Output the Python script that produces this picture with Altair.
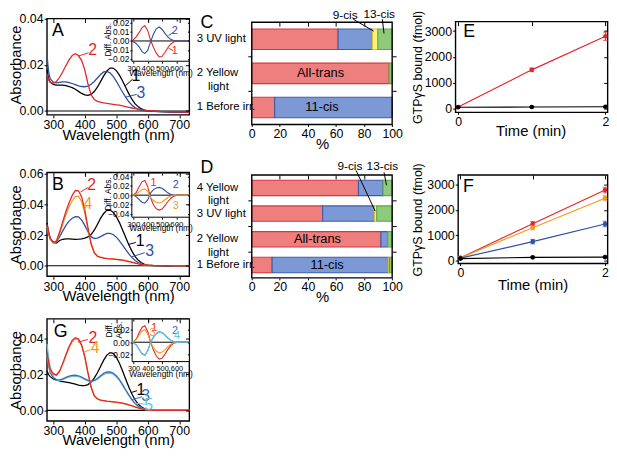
import altair as alt
import pandas as pd

# ---------------- data ----------------
WL = [280, 285, 290, 300, 310, 320, 330, 340, 350, 360, 370, 380, 390, 400, 410, 420, 430, 440, 450, 460,
      470, 480, 490, 500, 510, 520, 530, 540, 550, 560, 570, 580, 590, 600, 620, 640, 660, 680, 700, 720, 732]

A_SPEC_1 = [0.0180, 0.0140, 0.0125, 0.0115, 0.0112, 0.0112, 0.0112, 0.0110, 0.0106, 0.0101,
            0.0094, 0.0085, 0.0076, 0.0070, 0.0068, 0.0072, 0.0084, 0.0103, 0.0127, 0.0152,
            0.0173, 0.0186, 0.0186, 0.0175, 0.0155, 0.0130, 0.0102, 0.0074, 0.0050, 0.0031,
            0.0018, 0.0009, 0.0004, 0.0001, -0.0002, -0.0003, -0.0004, -0.0005, -0.0005, -0.0006, -0.0006]
A_SPEC_2 = [0.0160, 0.0135, 0.0125, 0.0120, 0.0128, 0.0146, 0.0170, 0.0196, 0.0221, 0.0240,
            0.0248, 0.0240, 0.0218, 0.0178, 0.0118, 0.0070, 0.0050, 0.0042, 0.0038, 0.0035,
            0.0033, 0.0031, 0.0029, 0.0027, 0.0025, 0.0022, 0.0019, 0.0016, 0.0013, 0.0010,
            0.0008, 0.0006, 0.0004, 0.0002, 0.0000, -0.0002, -0.0003, -0.0004, -0.0004, -0.0005, -0.0005]
A_SPEC_3 = [0.0240, 0.0170, 0.0140, 0.0125, 0.0122, 0.0124, 0.0126, 0.0126, 0.0123, 0.0119,
            0.0114, 0.0109, 0.0106, 0.0105, 0.0108, 0.0116, 0.0128, 0.0143, 0.0158, 0.0169,
            0.0171, 0.0165, 0.0150, 0.0129, 0.0105, 0.0081, 0.0059, 0.0040, 0.0025, 0.0014,
            0.0007, 0.0003, 0.0001, 0.0000, -0.0002, -0.0003, -0.0004, -0.0005, -0.0005, -0.0006, -0.0006]

B_SPEC_1 = [0.0280, 0.0220, 0.0180, 0.0152, 0.0148, 0.0165, 0.0173, 0.0176, 0.0175, 0.0174,
            0.0173, 0.0174, 0.0176, 0.0180, 0.0188, 0.0204, 0.0232, 0.0270, 0.0310, 0.0342,
            0.0362, 0.0364, 0.0350, 0.0322, 0.0282, 0.0234, 0.0184, 0.0136, 0.0094, 0.0060,
            0.0035, 0.0019, 0.0009, 0.0004, 0.0000, -0.0001, -0.0002, -0.0002, -0.0003, -0.0003, -0.0003]
B_SPEC_2 = [0.0270, 0.0220, 0.0180, 0.0152, 0.0162, 0.0220, 0.0288, 0.0355, 0.0412, 0.0460,
            0.0492, 0.0490, 0.0450, 0.0365, 0.0250, 0.0145, 0.0085, 0.0062, 0.0054, 0.0050,
            0.0047, 0.0045, 0.0043, 0.0041, 0.0039, 0.0036, 0.0032, 0.0027, 0.0022, 0.0017,
            0.0012, 0.0008, 0.0005, 0.0003, 0.0001, 0.0000, 0.0000, -0.0001, -0.0001, -0.0001, -0.0001]
B_SPEC_3 = [0.0260, 0.0210, 0.0175, 0.0150, 0.0155, 0.0190, 0.0228, 0.0264, 0.0292, 0.0311,
            0.0321, 0.0319, 0.0300, 0.0264, 0.0222, 0.0190, 0.0178, 0.0180, 0.0190, 0.0202,
            0.0211, 0.0212, 0.0204, 0.0187, 0.0163, 0.0135, 0.0105, 0.0077, 0.0053, 0.0034,
            0.0020, 0.0011, 0.0005, 0.0002, 0.0000, -0.0001, -0.0001, -0.0002, -0.0002, -0.0002, -0.0002]
B_SPEC_4 = [0.0260, 0.0210, 0.0175, 0.0150, 0.0158, 0.0210, 0.0272, 0.0334, 0.0385, 0.0425,
            0.0452, 0.0455, 0.0420, 0.0343, 0.0237, 0.0140, 0.0085, 0.0063, 0.0056, 0.0051,
            0.0048, 0.0046, 0.0044, 0.0042, 0.0040, 0.0037, 0.0033, 0.0028, 0.0023, 0.0018,
            0.0013, 0.0009, 0.0006, 0.0004, 0.0001, 0.0000, 0.0000, 0.0000, -0.0001, -0.0001, -0.0001]

G_SPEC_1 = [0.0220, 0.0200, 0.0188, 0.0175, 0.0168, 0.0164, 0.0161, 0.0158, 0.0155, 0.0151,
            0.0146, 0.0141, 0.0138, 0.0138, 0.0144, 0.0158, 0.0180, 0.0210, 0.0245, 0.0280,
            0.0308, 0.0322, 0.0318, 0.0297, 0.0263, 0.0220, 0.0174, 0.0129, 0.0090, 0.0058,
            0.0034, 0.0019, 0.0009, 0.0004, 0.0001, 0.0000, 0.0000, 0.0000, 0.0000, 0.0000, 0.0000]
G_SPEC_2 = [0.0320, 0.0270, 0.0230, 0.0205, 0.0198, 0.0220, 0.0262, 0.0310, 0.0355, 0.0390,
            0.0405, 0.0398, 0.0365, 0.0300, 0.0210, 0.0130, 0.0082, 0.0065, 0.0058, 0.0055,
            0.0052, 0.0050, 0.0048, 0.0046, 0.0043, 0.0040, 0.0036, 0.0031, 0.0026, 0.0020,
            0.0014, 0.0009, 0.0005, 0.0003, 0.0001, 0.0000, 0.0000, 0.0000, 0.0000, 0.0000, 0.0000]
G_SPEC_3 = [0.0300, 0.0250, 0.0210, 0.0182, 0.0172, 0.0170, 0.0176, 0.0184, 0.0191, 0.0195,
            0.0196, 0.0193, 0.0186, 0.0176, 0.0167, 0.0163, 0.0167, 0.0178, 0.0193, 0.0206,
            0.0214, 0.0215, 0.0208, 0.0193, 0.0171, 0.0144, 0.0114, 0.0085, 0.0059, 0.0038,
            0.0023, 0.0012, 0.0006, 0.0003, 0.0001, 0.0000, 0.0000, 0.0000, 0.0000, 0.0000, 0.0000]
G_SPEC_4 = [0.0310, 0.0260, 0.0220, 0.0200, 0.0195, 0.0216, 0.0258, 0.0305, 0.0350, 0.0384,
            0.0399, 0.0393, 0.0360, 0.0296, 0.0207, 0.0128, 0.0080, 0.0064, 0.0057, 0.0054,
            0.0051, 0.0049, 0.0047, 0.0045, 0.0042, 0.0039, 0.0035, 0.0030, 0.0025, 0.0019,
            0.0013, 0.0008, 0.0005, 0.0003, 0.0001, 0.0000, 0.0000, 0.0000, 0.0000, 0.0000, 0.0000]
G_SPEC_5 = [0.0370, 0.0300, 0.0240, 0.0190, 0.0170, 0.0166, 0.0171, 0.0179, 0.0186, 0.0190,
            0.0191, 0.0188, 0.0181, 0.0172, 0.0164, 0.0160, 0.0164, 0.0174, 0.0188, 0.0200,
            0.0207, 0.0208, 0.0202, 0.0188, 0.0167, 0.0141, 0.0112, 0.0084, 0.0059, 0.0039,
            0.0024, 0.0013, 0.0007, 0.0004, 0.0002, 0.0001, 0.0000, 0.0000, 0.0000, 0.0000, 0.0000]

WL_INSET = [290, 300, 320, 340, 360, 380, 400, 420, 440, 460, 480, 500, 520, 540, 560, 580, 600, 620, 650, 690]
A_DIFF_1 = [0.0, 0.0012, 0.0045, 0.0092, 0.0145, 0.0170, 0.0120, 0.0010, -0.0070, -0.0135,
            -0.0176, -0.0172, -0.0128, -0.0075, -0.0035, -0.0012, -0.0003, 0.0, 0.0, 0.0]
A_DIFF_2 = [0.0, -0.0008, -0.0028, -0.0065, -0.0115, -0.0140, -0.0105, -0.0010, 0.0075, 0.0135,
            0.0155, 0.0130, 0.0085, 0.0045, 0.0018, 0.0005, 0.0, 0.0, 0.0, 0.0]
B_DIFF_1 = [0.0, 0.0005, 0.0055, 0.0175, 0.0285, 0.0315, 0.0185, -0.0055, -0.0205, -0.0290,
            -0.0318, -0.0295, -0.0225, -0.0140, -0.0070, -0.0025, -0.0005, 0.0, 0.0, 0.0]
B_DIFF_2 = [0.0, 0.0, -0.0030, -0.0090, -0.0150, -0.0170, -0.0100, 0.0045, 0.0118, 0.0152,
            0.0166, 0.0148, 0.0100, 0.0050, 0.0018, 0.0004, 0.0, 0.0, 0.0, 0.0]
B_DIFF_3 = [0.0, 0.0, 0.0020, 0.0070, 0.0115, 0.0136, 0.0080, -0.0050, -0.0115, -0.0150,
            -0.0165, -0.0145, -0.0098, -0.0050, -0.0017, -0.0003, 0.0, 0.0, 0.0, 0.0]
G_DIFF_1 = [0.0, 0.0010, 0.0055, 0.0155, 0.0240, 0.0265, 0.0165, -0.0010, -0.0130, -0.0225,
            -0.0270, -0.0255, -0.0190, -0.0115, -0.0055, -0.0018, -0.0004, 0.0, 0.0, 0.0]
G_DIFF_2 = [0.0, -0.0010, -0.0045, -0.0118, -0.0185, -0.0205, -0.0130, 0.0005, 0.0085, 0.0140,
            0.0165, 0.0155, 0.0115, 0.0068, 0.0032, 0.0010, 0.0002, 0.0, 0.0, 0.0]
G_DIFF_3 = [0.0, 0.0010, 0.0045, 0.0115, 0.0180, 0.0200, 0.0125, -0.0010, -0.0090, -0.0145,
            -0.0170, -0.0158, -0.0118, -0.0070, -0.0033, -0.0010, -0.0002, 0.0, 0.0, 0.0]
G_DIFF_4 = [0.0, -0.0010, -0.0048, -0.0120, -0.0188, -0.0208, -0.0132, 0.0002, 0.0080, 0.0135,
            0.0160, 0.0150, 0.0112, 0.0066, 0.0031, 0.0010, 0.0002, 0.0, 0.0, 0.0]

ISOMERS = ["All-trans", "11-cis", "9-cis", "13-cis"]
INDENT = "\u200b\u2002\u2002"
C_ROWS = ["3 UV light", "2 Yellow|" + INDENT + "light", "1 Before irr."]
C_ALL_TRANS = [61.5, 97.8, 16.3]
C_11_CIS = [24.5, 0.0, 83.7]
C_9_CIS = [3.8, 0.0, 0.0]
C_13_CIS = [10.2, 2.2, 0.0]
D_ROWS = ["4 Yellow|" + INDENT + "light", "3 UV light", "2 Yellow|" + INDENT + "light", "1 Before irr."]
D_ALL_TRANS = [76.0, 50.5, 92.0, 14.5]
D_11_CIS = [17.5, 37.0, 4.8, 82.8]
D_9_CIS = [0.0, 1.5, 0.0, 0.8]
D_13_CIS = [6.5, 11.0, 3.2, 1.9]

TIME = [0, 1, 2]
E_RED = [60, 1500, 2800]
E_RED_ERR = [30, 70, 160]
E_BLACK = [50, 60, 70]
E_BLACK_ERR = [10, 15, 15]
F_RED = [100, 1450, 2780]
F_RED_ERR = [40, 90, 110]
F_ORANGE = [100, 1290, 2460]
F_ORANGE_ERR = [40, 80, 100]
F_BLUE = [90, 740, 1440]
F_BLUE_ERR = [30, 90, 110]
F_BLACK = [70, 120, 130]
F_BLACK_ERR = [10, 20, 20]

# ---------------- layout / style ----------------
W, H = 609, 442
FONT = "Liberation Sans"
RED = "#E3262B"
BLUE = "#2E50A3"
GBLUE = "#3A6DB8"
ORANGE = "#F39A1E"
TEAL = "#66C4DE"
BLACK = "#000000"
BAR_FILL = ["#EF7E7E", "#7C98D5", "#FFF27A", "#8DCA7B"]
BAR_STROKE = ["#D8363A", "#3C5DAA", "#D9C23A", "#5FA64B"]


def px(p):
    return 0.5 + (p - 1.5) * 0.988


def py(p):
    return 0.5 + (p - 2.0) * 0.9714


def lin(domain, r0, r1):
    return alt.Scale(domain=domain, range=[r0, r1], nice=False, zero=False)


def ax_bottom(bottom, values, fmt, size, title=None, tx=None, ty=None, tsize=15, tick=3, pad=1):
    kw = dict(orient="bottom", offset=py(bottom) - H, values=values, format=fmt, tickSize=tick,
              labelFontSize=size, labelPadding=pad, labelFlush=False, labelOverlap=False,
              domain=False, grid=False, zindex=1, tickWidth=1)
    if title:
        kw.update(title=title, titleFontSize=tsize, titleFontWeight="normal", titleX=px(tx),
                  titleY=py(ty) - py(bottom), titleAlign="center", titleBaseline="middle", titleAngle=0)
    else:
        kw["title"] = None
    return alt.Axis(**kw)


def ax_left(left, values, fmt, size, title=None, tx=None, ty=None, tsize=15, tick=3, pad=1):
    kw = dict(orient="left", offset=-px(left), values=values, format=fmt, tickSize=tick,
              labelFontSize=size, labelPadding=pad, labelFlush=False, labelOverlap=False,
              domain=False, grid=False, zindex=1, tickWidth=1)
    if title:
        kw.update(title=title, titleFontSize=tsize, titleFontWeight="normal", titleX=px(tx) - px(left),
                  titleY=py(ty), titleAlign="center", titleBaseline="middle", titleAngle=270)
    else:
        kw["title"] = None
    return alt.Axis(**kw)


def ax_top_in(top, values, tick=4):
    return alt.Axis(orient="top", offset=-(py(top) + tick), values=values, tickSize=tick, labels=False,
                    domain=False, grid=False, title=None, zindex=1, tickWidth=1)


def ax_right_in(right, values, tick=4):
    return alt.Axis(orient="right", offset=px(right) - tick - W, values=values, tickSize=tick, labels=False,
                    domain=False, grid=False, title=None, zindex=1, tickWidth=1)


def ax_right_out(right, values, tick=4):
    return alt.Axis(orient="right", offset=px(right) - W, values=values, tickSize=tick, labels=False,
                    domain=False, grid=False, title=None, zindex=1, tickWidth=1)


def ax_left_out(left, values, tick=4):
    return alt.Axis(orient="left", offset=-px(left), values=values, tickSize=tick, labels=False,
                    domain=False, grid=False, title=None, zindex=1, tickWidth=1)


def box_layers(xdom, ydom, xs, ys, xa1, ya1, xa2, ya2, fill=None, sw=1.4):
    df = pd.DataFrame({"x0": [xdom[0]], "x1": [xdom[1]], "y0": [ydom[0]], "y1": [ydom[1]]})
    if fill:
        m = alt.Chart(df).mark_rect(fill=fill, stroke=BLACK, strokeWidth=sw)
    else:
        m = alt.Chart(df).mark_rect(fillOpacity=0, stroke=BLACK, strokeWidth=sw)
    vis = m.encode(x=alt.X("x0:Q", scale=xs, axis=xa1), x2="x1:Q",
                   y=alt.Y("y0:Q", scale=ys, axis=ya1), y2="y1:Q")
    inv = alt.Chart(df).mark_rect(opacity=0).encode(
        x=alt.X("x0:Q", scale=xs, axis=xa2), x2="x1:Q",
        y=alt.Y("y0:Q", scale=ys, axis=ya2), y2="y1:Q")
    return [vis, inv]


def curve(xv, yv, color, xs, ys, sw=1.3):
    df = pd.DataFrame({"x": xv, "y": yv})
    return alt.Chart(df).mark_line(color=color, strokeWidth=sw).encode(
        x=alt.X("x:Q", scale=xs, axis=None), y=alt.Y("y:Q", scale=ys, axis=None))


def hline(x0, x1, yv, xs, ys, sw=1.2):
    df = pd.DataFrame({"x0": [x0], "x1": [x1], "y": [yv]})
    return alt.Chart(df).mark_rule(color=BLACK, strokeWidth=sw).encode(
        x=alt.X("x0:Q", scale=xs, axis=None), x2="x1:Q", y=alt.Y("y:Q", scale=ys, axis=None))


def seg(x0, y0, x1, y1, color, xs, ys, sw=1.0):
    df = pd.DataFrame({"x0": [x0], "x1": [x1], "y0": [y0], "y1": [y1]})
    return alt.Chart(df).mark_rule(color=color, strokeWidth=sw).encode(
        x=alt.X("x0:Q", scale=xs, axis=None), x2="x1:Q",
        y=alt.Y("y0:Q", scale=ys, axis=None), y2="y1:Q")


def label(xv, yv, text, color, xs, ys, size, align="center"):
    df = pd.DataFrame({"x": [xv], "y": [yv], "t": [text]})
    return alt.Chart(df).mark_text(color=color, fontSize=size, font=FONT, align=align,
                                   baseline="middle").encode(
        x=alt.X("x:Q", scale=xs, axis=None), y=alt.Y("y:Q", scale=ys, axis=None), text="t:N")


# ---------------- spectra panels ----------------
XDOM = [280, 732]
XT = [300, 400, 500, 600, 700]


def spectrum_panel(top, bottom, ydom, yvals, ytitle_y, xtitle_y, curves, extras):
    xs = lin(XDOM, px(41), px(187))
    ys = lin(ydom, py(bottom), py(top))
    layers = box_layers(
        XDOM, ydom, xs, ys,
        ax_bottom(bottom, XT, "d", 12.5, "Wavelength (nm)", 114, xtitle_y),
        ax_left(41, yvals, ".2f", 12.5, "Absorbance", 9, ytitle_y),
        ax_top_in(top, XT), ax_right_in(187, yvals))
    layers.append(hline(XDOM[0], XDOM[1], 0, xs, ys))
    for yv, col in curves:
        layers.append(curve(WL, yv, col, xs, ys))
    for e in extras:
        layers.append(e(xs, ys))
    return alt.layer(*layers).resolve_axis(x="independent", y="independent")


IXDOM = [290, 690]
IXT = [300, 400, 500, 600]


def inset_panel(left, top, bottom, ydom, yvals, ytitle, ytitle_x, ytitle_y, xtitle_y, curves, extras, xsize=8):
    xs = lin(IXDOM, px(left), px(187))
    ys = lin(ydom, py(bottom), py(top))
    layers = box_layers(
        IXDOM, ydom, xs, ys,
        ax_bottom(bottom, IXT, "d", xsize, "Wavelength (nm)", 157.5, xtitle_y, tsize=8.5, tick=2, pad=1),
        ax_left(left, yvals, ".2f", 8.5, ytitle, ytitle_x, ytitle_y, tsize=8.5, tick=2, pad=1),
        ax_top_in(top, IXT, 2), ax_right_in(187, yvals, 2), fill="white", sw=1.0)
    layers.append(hline(IXDOM[0], IXDOM[1], 0, xs, ys, sw=1.0))
    for yv, col in curves:
        layers.append(curve(WL_INSET, yv, col, xs, ys, sw=1.1))
    for e in extras:
        layers.append(e(xs, ys))
    return alt.layer(*layers).resolve_axis(x="independent", y="independent")


def L(xv, yv, t, c, size=16):
    return lambda xs, ys: label(xv, yv, t, c, xs, ys, size)


def S(x0, y0, x1, y1, c, sw=1.0):
    return lambda xs, ys: seg(x0, y0, x1, y1, c, xs, ys, sw)


panel_A = spectrum_panel(
    9.5, 110, [-0.0017, 0.04], [0, 0.02, 0.04], 57.5, 131,
    [(A_SPEC_1, BLACK), (A_SPEC_3, BLUE), (A_SPEC_2, RED)],
    [L(315, 0.0345, "A", BLACK, 18),
     S(380, 0.0238, 412, 0.0252, RED), L(425, 0.0262, "2", RED),
     S(528, 0.0108, 552, 0.0138, BLACK), L(562, 0.0150, "1", BLACK),
     S(530, 0.0060, 565, 0.0072, BLUE), L(578, 0.0078, "3", BLUE)])

inset_A = inset_panel(
    128, 10, 54, [-0.0225, 0.0243], [-0.02, -0.01, 0, 0.01, 0.02], "Diff. Abs.", 103.5, 31, 65.5,
    [(A_DIFF_1, RED), (A_DIFF_2, BLUE)],
    [L(588, 0.0110, "2", BLUE, 11), S(545, 0.0060, 578, 0.0095, BLUE),
     L(588, -0.0115, "1", RED, 11), S(545, -0.0080, 578, -0.0108, RED)])

panel_B = spectrum_panel(
    170, 278.3, [-0.0069, 0.061], [0, 0.02, 0.04, 0.06], 224, 298,
    [(B_SPEC_1, BLACK), (B_SPEC_3, BLUE), (B_SPEC_4, ORANGE), (B_SPEC_2, RED)],
    [L(315, 0.0528, "B", BLACK, 18),
     S(386, 0.0482, 411, 0.0512, RED), L(422, 0.0526, "2", RED),
     S(398, 0.0365, 406, 0.0392, ORANGE), L(410, 0.0401, "4", ORANGE),
     S(540, 0.0140, 562, 0.0152, BLACK), L(576, 0.0160, "1", BLACK),
     S(549, 0.0058, 590, 0.0085, BLUE), L(606, 0.0098, "3", BLUE)])

inset_B = inset_panel(
    128, 170.7, 216.7, [-0.047, 0.047], [-0.04, -0.02, 0, 0.02, 0.04], "Diff. Abs.", 103.5, 192, 227,
    [(B_DIFF_1, RED), (B_DIFF_2, BLUE), (B_DIFF_3, ORANGE)],
    [L(440, 0.0250, "1", RED, 11), L(595, 0.0215, "2", BLUE, 11), L(595, -0.0235, "3", ORANGE, 11)])

panel_G = spectrum_panel(
    322.7, 429.3, [-0.0059, 0.051], [0, 0.02, 0.04], 376, 449,
    [(G_SPEC_1, BLACK), (G_SPEC_5, TEAL), (G_SPEC_3, GBLUE), (G_SPEC_4, ORANGE), (G_SPEC_2, RED)],
    [L(323, 0.0435, "G", BLACK, 18),
     S(378, 0.0380, 410, 0.0395, RED), L(426, 0.0402, "2", RED),
     S(396, 0.0325, 418, 0.0338, ORANGE), L(433, 0.0347, "4", ORANGE),
     S(548, 0.0100, 566, 0.0110, BLACK), L(578, 0.0115, "1", BLACK),
     S(550, 0.0060, 582, 0.0076, GBLUE), L(593, 0.0081, "3", GBLUE),
     S(560, 0.0040, 590, 0.0035, TEAL), L(603, 0.0031, "5", TEAL)])

inset_G = inset_panel(
    128.3, 323, 367.3, [-0.031, 0.037], [-0.02, 0, 0.02], ["Diff.", "Abs."], 104, 334, 379.5,
    [(G_DIFF_1, RED), (G_DIFF_3, ORANGE), (G_DIFF_2, GBLUE), (G_DIFF_4, TEAL)],
    [L(445, 0.0225, "1", RED, 11), L(433, 0.0150, "3", ORANGE, 11),
     L(590, 0.0185, "2", GBLUE, 11), L(603, 0.0100, "4", TEAL, 11)], xsize=7.5)


# ---------------- bar panels ----------------
def bar_panel(rows, cols, top, bottom, xtitle_y, annots):
    recs = []
    for r, row in enumerate(rows):
        for k, iso in enumerate(ISOMERS):
            v = cols[k][r]
            if v > 0:
                recs.append({"row": row, "iso": iso, "k": k, "pct": v})
    df = pd.DataFrame(recs)
    xs = lin([0, 100], px(251), px(395))
    ys_band = alt.Scale(domain=rows, range=[py(top), py(bottom)], paddingInner=0.4, paddingOuter=0.2)
    bars = alt.Chart(df).mark_bar(strokeWidth=1.1, opacity=1).encode(
        x=alt.X("pct:Q", stack="zero", scale=xs,
                axis=ax_bottom(bottom, [0, 20, 40, 60, 80, 100], "d", 12.5, "%", 323, xtitle_y, tick=2, pad=1)),
        y=alt.Y("row:N", sort=rows, scale=ys_band,
                axis=alt.Axis(orient="left", offset=-px(251), ticks=False, tickSize=0, domain=False,
                              labelAlign="left", labelPadding=px(251) - px(194), labelFontSize=11.5,
                              labelLineHeight=13.5, labelBaseline="middle",
                              labelExpr="split(datum.label, '|')", title=None,
                              grid=False, labelLimit=0, zindex=1)),
        fill=alt.Fill("iso:N", scale=alt.Scale(domain=ISOMERS, range=BAR_FILL), legend=None),
        stroke=alt.Stroke("iso:N", scale=alt.Scale(domain=ISOMERS, range=BAR_STROKE), legend=None),
        order=alt.Order("k:Q", sort="ascending"))

    n = len(rows)
    ys = lin([0, n], py(bottom), py(top))
    bounds = list(range(1, n))
    layers = box_layers([0, 100], [0, n], xs, ys,
                        ax_top_in(top, [20, 40, 60, 80]), ax_right_out(395, bounds),
                        None, ax_left_out(251, bounds))
    for a in annots:
        layers.append(a(xs, ys))
    annot = alt.layer(*layers).resolve_axis(x="independent", y="independent")
    return bars, annot


C_COLS = [C_ALL_TRANS, C_11_CIS, C_9_CIS, C_13_CIS]
D_COLS = [D_ALL_TRANS, D_11_CIS, D_9_CIS, D_13_CIS]

bars_C, annot_C = bar_panel(
    C_ROWS, C_COLS, 13.3, 120, 140,
    [L(-32, 2.97, "C", BLACK, 18), L(66.5, 3.2, "9-cis", BLACK, 12), L(90.8, 3.23, "13-cis", BLACK, 12),
     S(72.2, 3.09, 86.8, 2.74, BLACK), S(93.0, 3.09, 94.2, 2.67, BLACK),
     L(49, 1.5, "All-trans", BLACK, 13), L(50, 0.5, "11-cis", BLACK, 13)])

bars_D, annot_D = bar_panel(
    D_ROWS, D_COLS, 172.7, 280, 299,
    [L(-32, 4.29, "D", BLACK, 18), L(69.9, 4.35, "9-cis", BLACK, 12), L(93, 4.35, "13-cis", BLACK, 12),
     S(74.3, 4.18, 87.9, 2.6, BLACK), S(94.2, 4.1, 96.0, 3.6, BLACK),
     L(46.8, 1.5, "All-trans", BLACK, 13), L(53.7, 0.5, "11-cis", BLACK, 13)])


# ---------------- GTPgS panels ----------------
def series(vals, errs, color, xs, ys):
    df = pd.DataFrame({"t": TIME, "v": vals,
                       "lo": [a - b for a, b in zip(vals, errs)],
                       "hi": [a + b for a, b in zip(vals, errs)]})
    X = alt.X("t:Q", scale=xs, axis=None)
    base = alt.Chart(df)
    return [
        base.mark_line(color=color, strokeWidth=1.2).encode(x=X, y=alt.Y("v:Q", scale=ys, axis=None)),
        base.mark_rule(color=color, strokeWidth=1).encode(x=X, y=alt.Y("lo:Q", scale=ys, axis=None), y2="hi:Q"),
        base.mark_tick(color=color, orient="horizontal", size=5, thickness=1).encode(
            x=X, y=alt.Y("lo:Q", scale=ys, axis=None)),
        base.mark_tick(color=color, orient="horizontal", size=5, thickness=1).encode(
            x=X, y=alt.Y("hi:Q", scale=ys, axis=None)),
        base.mark_point(filled=True, color=color, size=22, opacity=1).encode(
            x=X, y=alt.Y("v:Q", scale=ys, axis=None)),
    ]


def gtp_panel(left, top, bottom, xdom, ydom, xtitle_x, xtitle_y, ytitle_y, letter, lpos, data):
    xs = lin(xdom, px(left), px(616))
    ys = lin(ydom, py(bottom), py(top))
    yv = [0, 1000, 2000, 3000]
    layers = box_layers(
        xdom, ydom, xs, ys,
        ax_bottom(bottom, TIME, "d", 12.5, "Time (min)", xtitle_x, xtitle_y, tick=2, pad=1),
        ax_left(left, yv, "d", 12.5, "GTP\u03b3S bound (fmol)", 421, ytitle_y, tsize=12.6),
        ax_top_in(top, TIME), ax_right_in(616, yv))
    for vals, errs, col in data:
        layers += series(vals, errs, col, xs, ys)
    layers.append(label(lpos[0], lpos[1], letter, BLACK, xs, ys, 18))
    return alt.layer(*layers).resolve_axis(x="independent", y="independent")


panel_E = gtp_panel(460, 12.7, 107.3, [-0.035, 2.03], [-146, 3366], 537, 126.7, 60, "E", (0.15, 2946),
                    [(E_RED, E_RED_ERR, RED), (E_BLACK, E_BLACK_ERR, BLACK)])
panel_F = gtp_panel(462.7, 172.7, 265, [-0.031, 2.036], [-124, 3375], 539, 286.7, 219, "F", (0.112, 2909),
                    [(F_RED, F_RED_ERR, RED), (F_ORANGE, F_ORANGE_ERR, ORANGE),
                     (F_BLUE, F_BLUE_ERR, BLUE), (F_BLACK, F_BLACK_ERR, BLACK)])

chart = alt.layer(
    panel_A, inset_A, panel_B, inset_B, panel_G, inset_G,
    bars_C, annot_C, bars_D, annot_D, panel_E, panel_F
).resolve_scale(x="independent", y="independent").properties(
    width=W, height=H, autosize=alt.AutoSizeParams(type="none"), padding=0,
    background="white"
).configure_view(stroke=None).configure_axis(
    labelFont=FONT, titleFont=FONT, labelColor=BLACK, titleColor=BLACK, tickColor=BLACK,
    domainColor=BLACK, titleFontWeight="normal"
)

chart.save("out.html", embed_options={"renderer": "svg", "actions": False})
